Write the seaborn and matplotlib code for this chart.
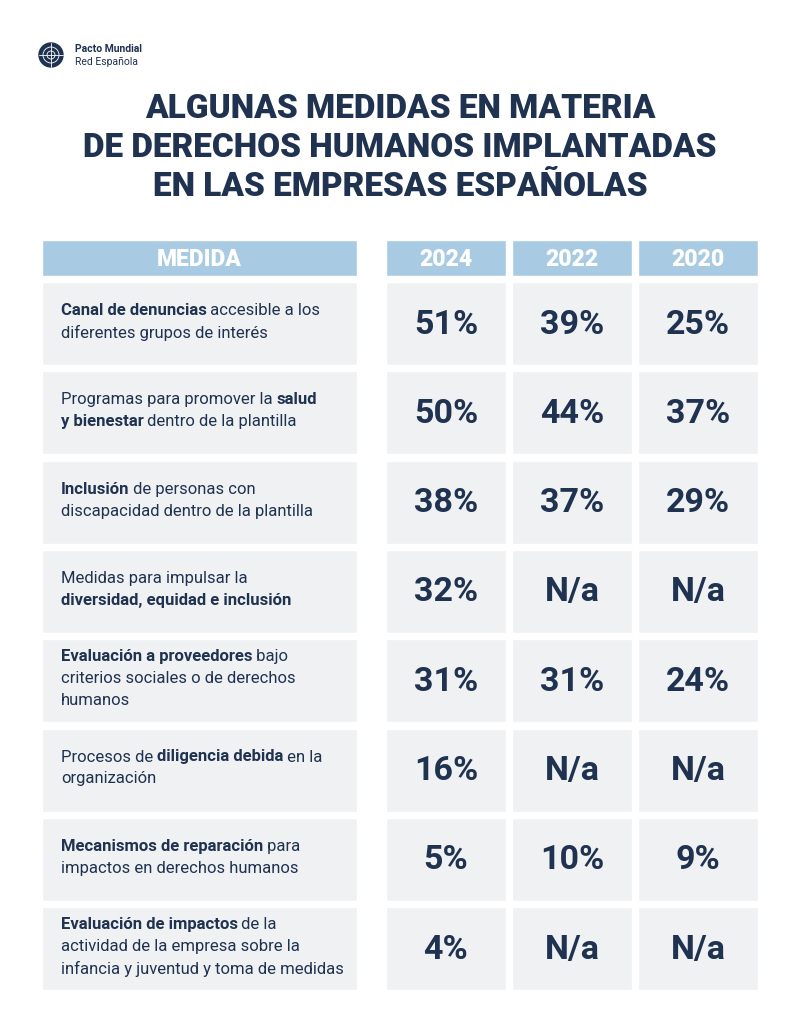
import numpy as np
import matplotlib.pyplot as plt
import seaborn as sns

# data
years = ["2024", "2022", "2020"]
measures = [
    [[("Canal de denuncias", True), (" accesible a los", False)],
     [("diferentes grupos de interés", False)]],
    [[("Programas para promover la ", False), ("salud", True)],
     [("y bienestar", True), (" dentro de la plantilla", False)]],
    [[("Inclusión", True), (" de personas con", False)],
     [("discapacidad dentro de la plantilla", False)]],
    [[("Medidas para impulsar la", False)],
     [("diversidad, equidad e inclusión", True)]],
    [[("Evaluación a proveedores", True), (" bajo", False)],
     [("criterios sociales o de derechos", False)],
     [("humanos", False)]],
    [[("Procesos de ", False), ("diligencia debida", True), (" en la", False)],
     [("organización", False)]],
    [[("Mecanismos de reparación", True), (" para", False)],
     [("impactos en derechos humanos", False)]],
    [[("Evaluación de impactos", True), (" de la", False)],
     [("actividad de la empresa sobre la", False)],
     [("infancia y juventud y toma de medidas", False)]],
]
vals_2024 = ["51%", "50%", "38%", "32%", "31%", "16%", "5%", "4%"]
vals_2022 = ["39%", "44%", "37%", "N/a", "31%", "N/a", "10%", "N/a"]
vals_2020 = ["25%", "37%", "29%", "N/a", "24%", "N/a", "9%", "N/a"]
title_lines = ["ALGUNAS MEDIDAS EN MATERIA",
               "DE DERECHOS HUMANOS IMPLANTADAS",
               "EN LAS EMPRESAS ESPAÑOLAS"]

navy = "#1f3250"
head_blue = "#a8cbe3"
cell_grey = "#eff1f3"

sns.set_theme(style="white")
plt.rcParams['font.family'] = ['Roboto', 'DejaVu Sans']

fig = plt.figure(figsize=(8.01, 10.24), dpi=100)
ax = fig.add_axes([0, 0, 1, 1])
ax.set_xlim(0, 801)
ax.set_ylim(1024, 0)
ax.axis("off")

# logo
ax.add_patch(plt.Circle((51, 55), 12, color=navy))
for r in [4, 8]:
    ax.add_patch(plt.Circle((51, 55), r, fill=False, color="white", lw=0.6))
ax.plot([39, 63], [55, 55], color="white", lw=0.6)
ax.plot([51, 51], [43, 67], color="white", lw=0.6)
ax.text(75, 49, "Pacto Mundial", fontsize=7.5, fontweight="bold", color=navy, va="center")
ax.text(75, 62, "Red Española", fontsize=7.5, color=navy, va="center")

# title
for i, line in enumerate(title_lines):
    ax.text(400, 109 + i * 39, line, ha="center", va="center", fontsize=24,
            fontweight=900, color=navy)

# column layout
med_left, med_w = 42, 315
col_left = [386, 512, 638]
col_w = 120
head_y, head_h = 258, 36
row0, pitch, row_h = 323.5, 89.3, 83
row_y = row0 + pitch * np.arange(len(measures))

# header
ax.barh([head_y], [med_w], left=med_left, height=head_h, color=head_blue)
ax.text(med_left + med_w / 2, head_y + 1, "MEDIDA", ha="center", va="center",
        fontsize=16.5, fontweight=900, color="white")
for x, yr in zip(col_left, years):
    ax.barh([head_y], [col_w], left=x, height=head_h, color=head_blue)
    ax.text(x + col_w / 2, head_y + 1, yr, ha="center", va="center",
            fontsize=16.5, fontweight=900, color="white")

# cells
ax.barh(row_y, med_w, left=med_left, height=row_h, color=cell_grey)
for x, vals in zip(col_left, [vals_2024, vals_2022, vals_2020]):
    ax.barh(row_y, col_w, left=x, height=row_h, color=cell_grey)
    for y, v in zip(row_y, vals):
        ax.text(x + col_w / 2, y + 1, v, ha="center", va="center", fontsize=24.5,
                fontweight="bold", color=navy)

# measure texts, mixed bold / regular
renderer = fig.canvas.get_renderer()
line_h = 22
for y, lines in zip(row_y, measures):
    n = len(lines)
    y0 = y - (n - 1) * line_h / 2 - 2
    for j, segs in enumerate(lines):
        x = 61
        for txt, bold in segs:
            t = ax.text(x, y0 + j * line_h, txt, ha="left", va="center", fontsize=12,
                        fontweight="bold" if bold else "normal", color=navy)
            # extents carry a little padding, trim it so words join evenly
            x += t.get_window_extent(renderer).width - 0.6

fig.savefig("out.png", dpi=100, facecolor="white")
